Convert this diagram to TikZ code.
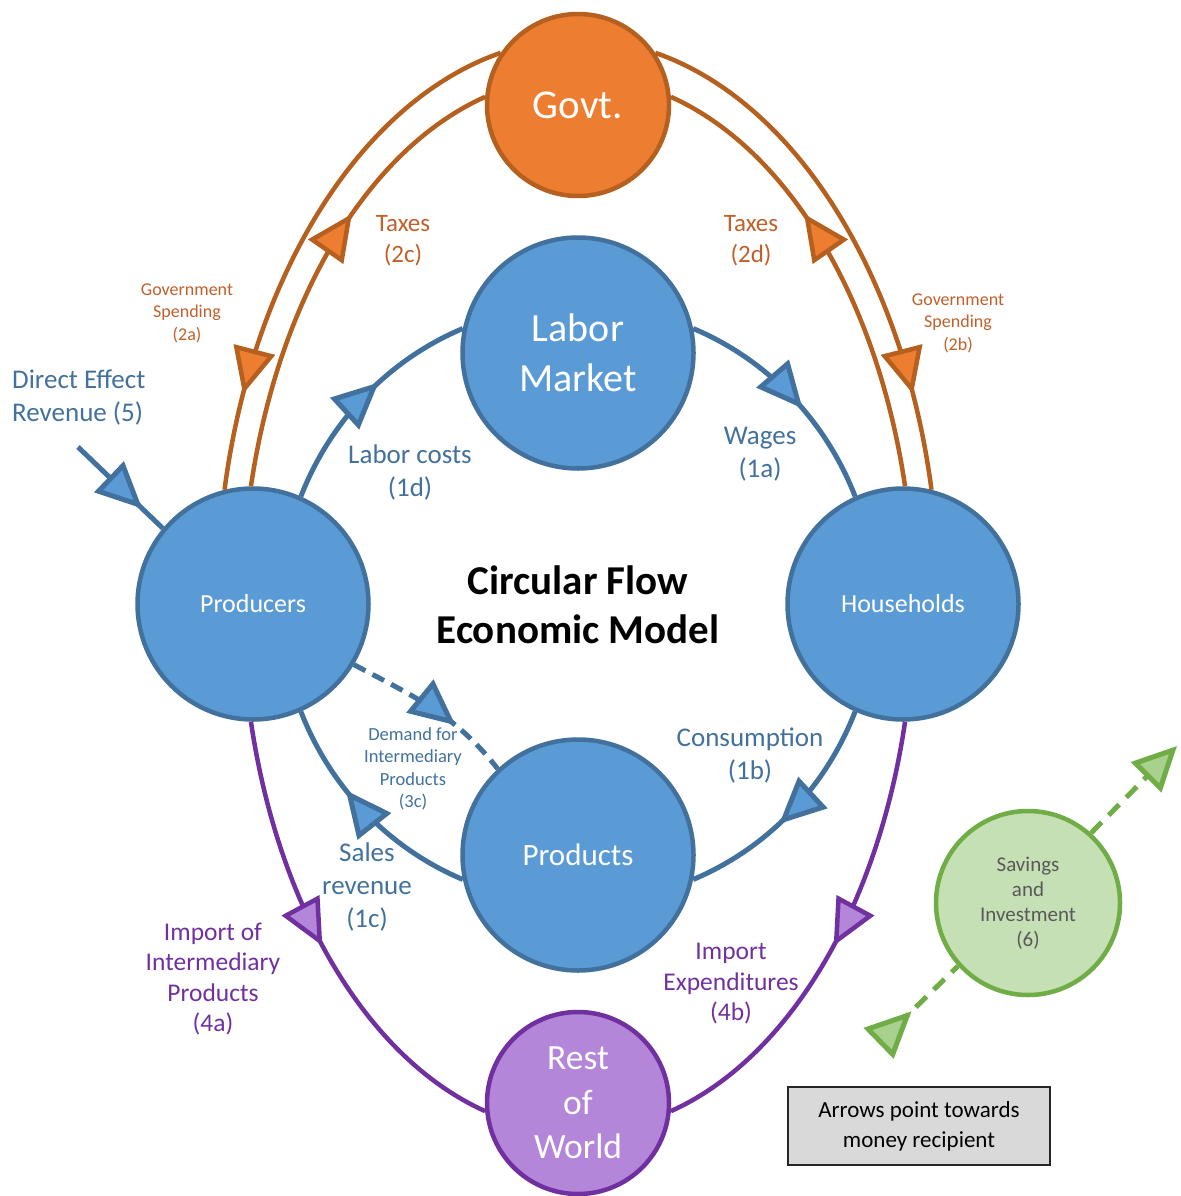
\documentclass[tikz,border=0pt]{standalone}
\usepackage{fontspec}
\setmainfont{Carlito}
\usetikzlibrary{arrows.meta,decorations.markings}

\definecolor{bfill}{HTML}{5B9BD5}
\definecolor{bline}{HTML}{41719C}
\definecolor{btext}{HTML}{41719C}
\definecolor{ofill}{HTML}{ED7D31}
\definecolor{oline}{HTML}{B5601F}
\definecolor{otext}{HTML}{C0602A}
\definecolor{pfill}{HTML}{B486D9}
\definecolor{pline}{HTML}{7030A0}
\definecolor{gfill}{HTML}{C5E0B4}
\definecolor{gline}{HTML}{70AD47}
\definecolor{garrow}{HTML}{A9D18E}
\definecolor{gtext}{HTML}{595959}
\definecolor{boxfill}{HTML}{D9D9D9}

\newcommand\fsz[2]{\fontsize{#1}{#2}\selectfont}

\tikzset{
  bubble/.style={circle, inner sep=0pt, line width=4.5pt, text=white, align=center},
  bluebub/.style={bubble, minimum size=231pt, draw=bline, fill=bfill},
  midarrow/.style 2 args={postaction={decorate},
    decoration={markings, mark=at position #1 with {\arrow{Triangle[length=46pt,width=42pt,fill=#2]}}}},
  bflow/.style={draw=bline, line width=5pt},
  oflow/.style={draw=oline, line width=4.5pt},
  pflow/.style={draw=pline, line width=4.5pt},
  gflow/.style={draw=gline, line width=5pt, dash pattern=on 15pt off 10pt},
  lbl/.style={align=center, inner sep=0pt},
}

\begin{document}
\begin{tikzpicture}[x=1pt,y=-1pt]
\useasboundingbox (0,0) rectangle (1180,1196);

% sectors of the economy
\node[bluebub, font=\fsz{40}{50}] (labor) at (578,353) {Labor\\Market};
\node[bluebub, font=\fsz{26}{32}] (prod) at (253,604) {Producers};
\node[bluebub, font=\fsz{26}{32}] (hh) at (903,604) {Households};
\node[bluebub, font=\fsz{31}{38}] (goods) at (578,855) {Products};
\node[bubble, minimum size=182pt, draw=oline, fill=ofill, font=\fsz{41}{50}] (govt) at (578,105) {Govt.};
\node[bubble, minimum size=182pt, draw=pline, fill=pfill, font=\fsz{35.5}{44.5}] (row) at (578,1103) {Rest\\of\\World};
\node[bubble, minimum size=184pt, line width=4.5pt, draw=gline, fill=gfill, text=gtext, font=\fsz{21}{25}] (sav) at (1028,903) {Savings\\and\\Investment\\(6)};

% title
\node[lbl, font=\fsz{41}{49}\bfseries] (title) at (578,605) {Circular Flow\\Economic Model};

% inner money loop
\draw[bflow, midarrow={0.58}{bfill}] (prod.66) .. controls +(68.8:81pt) and +(202.8:81pt) .. (labor.168);
\draw[bflow, midarrow={0.57}{bfill}] (labor.12) .. controls +(-22.8:81pt) and +(111.2:81pt) .. (hh.114);
\draw[bflow, midarrow={0.57}{bfill}] (hh.246) .. controls +(-111.2:81pt) and +(22.8:81pt) .. (goods.-12);
\draw[bflow, midarrow={0.62}{bfill}] (goods.192) .. controls +(157.2:81pt) and +(291.2:81pt) .. (prod.294);

% intermediary demand
\draw[bflow, dash pattern=on 13pt off 8pt, midarrow={0.66}{bfill}] (prod.-31) to[out=-28, in=128] (goods.133);

% direct effect
\coordinate (deff) at (78,447);
\draw[bflow, midarrow={0.76}{bfill}] (deff) -- (prod.140);

% government flows
\draw[oflow, midarrow={0.82}{ofill}] (govt.146) .. controls +(199.1:147pt) and +(82.5:219pt) .. (prod.104);
\draw[oflow, midarrow={0.82}{ofill}] (govt.34) .. controls +(-19.1:147pt) and +(97.5:219pt) .. (hh.76);
\draw[oflow, midarrow={0.62}{ofill}] (prod.91) .. controls +(81.6:189pt) and +(204.2:129pt) .. (govt.175);
\draw[oflow, midarrow={0.62}{ofill}] (hh.89) .. controls +(98.4:189pt) and +(-24.2:129pt) .. (govt.5);

% imports
\draw[pflow, midarrow={0.5}{pfill}] (prod.269) .. controls +(-81.6:189pt) and +(155.8:129pt) .. (row.185);
\draw[pflow, midarrow={0.5}{pfill}] (hh.271) .. controls +(-98.4:189pt) and +(24.2:129pt) .. (row.355);

% savings and investment
\coordinate (gin) at (880,1042);
\coordinate (gout) at (1177,746);
\draw[gflow, midarrow={44pt}{garrow}] (gin) -- (sav.222);
\draw[gflow, -{Triangle[length=44pt,width=42pt,fill=garrow]}] (sav.48) -- (gout);

% labels
\node[lbl, text=btext, font=\fsz{27}{33}] (l1d) at (410,472) {Labor costs\\(1d)};
\node[lbl, text=btext, font=\fsz{27}{33}] (l1a) at (760,454) {Wages\\(1a)};
\node[lbl, text=btext, font=\fsz{27}{33}] (l1b) at (750,756) {Consumption\\(1b)};
\node[lbl, text=btext, font=\fsz{27}{33}] (l1c) at (367,887) {Sales\\revenue\\(1c)};
\node[lbl, text=btext, font=\fsz{27}{33}, anchor=west, align=left] (l5) at (12,398) {Direct Effect\\Revenue (5)};
\node[lbl, text=btext, font=\fsz{18.5}{22.5}] (l3c) at (413,769) {Demand for\\Intermediary\\Products\\(3c)};
\node[lbl, text=otext, font=\fsz{25}{31}] (l2c) at (403,241) {Taxes\\(2c)};
\node[lbl, text=otext, font=\fsz{25}{31}] (l2d) at (751,241) {Taxes\\(2d)};
\node[lbl, text=otext, font=\fsz{18}{22.5}] (l2a) at (187,313) {Government\\Spending\\(2a)};
\node[lbl, text=otext, font=\fsz{18}{22.5}] (l2b) at (958,323) {Government\\Spending\\(2b)};
\node[lbl, text=pline, font=\fsz{25.5}{30.5}] (l4a) at (213,979) {Import of\\Intermediary\\Products\\(4a)};
\node[lbl, text=pline, font=\fsz{25.5}{30.5}] (l4b) at (731,984) {Import\\Expenditures\\(4b)};

% legend
\node[draw=black!85, line width=2pt, fill=boxfill, minimum width=262pt, minimum height=78pt, align=center, inner sep=0pt, font=\fsz{23}{30}] (legend) at (919,1126) {Arrows point towards\\money recipient};
\end{tikzpicture}
\end{document}
